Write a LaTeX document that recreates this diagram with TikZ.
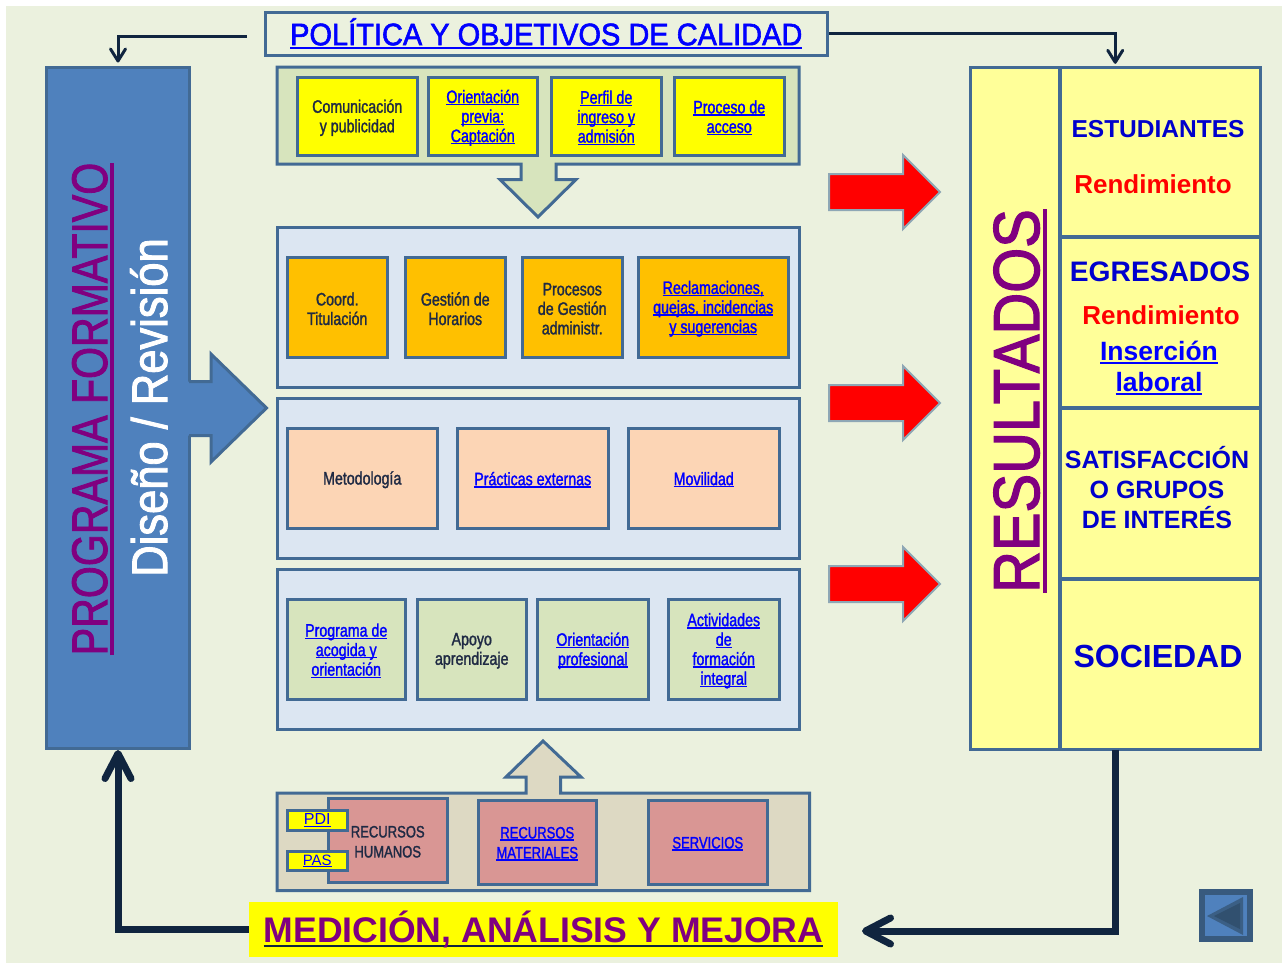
\documentclass[tikz,border=0pt]{standalone}
\usepackage{fontspec}
\usepackage{graphicx}
\setmainfont{Liberation Sans}
\newfontfamily\nar[FakeStretch=0.79,FakeBold=1.5]{Liberation Sans}
\newfontfamily\fb[FakeBold=2]{Liberation Sans}
\usetikzlibrary{arrows.meta}
\definecolor{bgc}{HTML}{EBF1DE}
\definecolor{edge}{HTML}{426A94}
\definecolor{navy}{HTML}{10253F}
\definecolor{blueb}{HTML}{4F81BD}
\definecolor{bluelink}{HTML}{0000FF}
\definecolor{deepb}{HTML}{0000CC}
\definecolor{purp}{HTML}{800080}
\definecolor{grn}{HTML}{D7E4BD}
\definecolor{tan}{HTML}{DDD9C3}
\definecolor{pale}{HTML}{DCE6F2}
\definecolor{peach}{HTML}{FCD5B5}
\definecolor{rose}{HTML}{D99694}
\definecolor{lemon}{HTML}{FFFF99}
\definecolor{orng}{HTML}{FFC000}
\definecolor{txt}{HTML}{1F2A44}
\definecolor{pureyel}{RGB}{255,255,0}
\definecolor{purered}{RGB}{255,0,0}
\newcommand\lnk[2][-0.13em]{\setbox0\hbox{#2}\leavevmode\rlap{\rule[#1]{\wd0}{0.07em}}\box0\relax}
\newcommand\bx[7]{%
  \pgfmathsetmacro\bxw{#4-#2-1.5}\pgfmathsetmacro\bxh{#5-#3-1.5}%
  \node[#6,minimum width=\bxw pt,minimum height=\bxh pt] (#1) at ({(#2+#4-1.5)/2},{(#3+#5-1.5)/2}) {#7};}
% box with its text set 1.5px lower than the centre
\newcommand\bt[7]{%
  \bx{#1}{#2}{#3}{#4}{#5}{#6}{}%
  \node[#6,draw=none,fill=none] (#1t) at ({(#2+#4-1.5)/2},{(#3+#5-1.5)/2+1.5}) {#7};}
\tikzset{
  x=1pt,y=-1pt,
  box/.style={draw=edge,line width=3pt,inner sep=0pt,align=center,text=txt,font=\nar\fontsize{18}{19.5}\selectfont},
  yel/.style={box,fill=pureyel},
  org/.style={box,fill=orng},
  pch/.style={box,fill=peach},
  grb/.style={box,fill=grn},
  ros/.style={box,fill=rose,font=\nar\fontsize{16.5}{20}\selectfont},
  lnkc/.style={text=bluelink},
  grp/.style={draw=edge,line width=3pt,line join=miter},
  res/.style={draw=edge,line width=3pt,fill=lemon,inner sep=0pt,align=center},
  thin/.style={draw=navy,line width=3pt,shorten >=3pt,-{Straight Barb[round,length=12pt,width=15pt]}},
  thick/.style={draw=navy,line width=7pt,line join=miter,-{Straight Barb[round,length=25pt,width=26pt]}},
  redarrow/.style={fill=purered,draw=edge!55!bgc,line width=2pt,line join=miter},
}
\begin{document}
\begin{tikzpicture}
\useasboundingbox (0,0) rectangle (1286,964);
\fill[white] (0,0) rectangle (1286,964);
\fill[bgc] (6,6) rectangle (1282,963);

% left column
\bx{prog}{46.5}{67}{191}{750}{draw=edge,line width=3pt,fill=blueb}{}
\fill[blueb] (186,381.5) -- (211,381.5) -- (211,354) -- (266.5,408) -- (211,462) -- (211,435.5) -- (186,435.5) -- cycle;
\draw[draw=edge,line width=3pt,line join=miter] (189,381.5) -- (211,381.5) -- (211,354) -- (266.5,408) -- (211,462) -- (211,435.5) -- (189,435.5);
\node[rotate=90,anchor=base,inner sep=0pt,text=purp,font=\fb\fontsize{50}{56}\selectfont] (progt) at (107,409) {\scalebox{0.822}[1]{\lnk{PROGRAMA FORMATIVO}}};
\node[rotate=90,anchor=base,inner sep=0pt,text=white,font=\fb\fontsize{50}{56}\selectfont] (dis) at (167,407.5) {\scalebox{0.87}[1]{Diseño / Revisión}};

% policy
\bx{pol}{265}{12}{829}{57}{draw=edge,line width=3pt,fill=bgc,inner sep=0pt,text=bluelink,font=\fb\fontsize{31}{35}\selectfont}{\scalebox{0.935}[1]{\lnk{POLÍTICA Y OBJETIVOS DE CALIDAD}}}

% group 1
\draw[grp,fill=grn] (277,67) -- (799,67) -- (799,164) -- (556,164) -- (556,179.5) -- (576,179.5) -- (538,217) -- (500,179.5) -- (521,179.5) -- (521,164) -- (277,164) -- cycle;
\bt{a1}{297}{77}{419}{157}{yel}{Comunicación\\y publicidad}
\bt{a2}{428}{77}{539}{157}{yel,lnkc}{\lnk{Orientación}\\\lnk{previa:}\\\lnk{Captación}}
\bt{a3}{551}{77}{663}{157}{yel,lnkc}{\lnk{Perfil de}\\\lnk{ingreso y}\\\lnk{admisión}}
\bt{a4}{674}{77}{786}{157}{yel,lnkc}{\lnk{Proceso de}\\\lnk{acceso}}

% group 2
\bx{g2}{277}{227}{800.5}{389}{grp,fill=pale}{}
\bt{b1}{287}{257}{389}{359}{org}{Coord.\\Titulación}
\bt{b2}{405}{257}{507}{359}{org}{Gestión de\\Horarios}
\bt{b3}{522}{257}{624}{359}{org}{Procesos\\de Gestión\\administr.}
\bt{b4}{638}{257}{790}{359}{org,lnkc}{\lnk{Reclamaciones,}\\\lnk{quejas, incidencias}\\\lnk{y sugerencias}}

% group 3
\bx{g3}{277}{398}{800.5}{560}{grp,fill=pale}{}
\bt{c1}{287}{428}{439}{530}{pch}{Metodología}
\bt{c2}{457}{428}{610}{530}{pch,lnkc}{\lnk{Prácticas externas}}
\bt{c3}{628}{428}{781}{530}{pch,lnkc}{\lnk{Movilidad}}

% group 4
\bx{g4}{277}{569}{800.5}{731}{grp,fill=pale}{}
\bt{d1}{287}{599}{407}{701}{grb,lnkc}{\lnk{Programa de}\\\lnk{acogida y}\\\lnk{orientación}}
\bt{d2}{417}{599}{528}{701}{grb}{Apoyo\\aprendizaje}
\bt{d3}{537}{599}{650}{701}{grb,lnkc}{\lnk{Orientación}\\\lnk{profesional}}
\bt{d4}{668}{599}{781}{701}{grb,lnkc}{\lnk{Actividades}\\\lnk{de}\\\lnk{formación}\\\lnk{integral}}

% group 5
\draw[grp,fill=tan] (277,793) -- (526,793) -- (526,777) -- (506,777) -- (543,741) -- (581,777) -- (560.5,777) -- (560.5,793) -- (809.5,793) -- (809.5,890.5) -- (277,890.5) -- cycle;
\bt{e1}{328}{798}{449}{884}{ros}{RECURSOS\\HUMANOS}
\bt{e2}{478}{800}{598}{886}{ros,lnkc}{\lnk{RECURSOS}\\\lnk{MATERIALES}}
\bt{e3}{648}{800}{769}{886}{ros,lnkc}{\lnk{SERVICIOS}}
\bx{pdi}{287}{810}{349}{832}{yel,text=bluelink,font=\fontsize{16}{18}\selectfont}{\lnk{PDI}}
\bx{pas}{287}{851}{349}{872}{yel,text=bluelink,font=\fontsize{15}{18}\selectfont}{\lnk{PAS}}

% measurement banner
\bx{med}{249}{902}{839.5}{958.5}{fill=pureyel,inner sep=0pt,text=purp,font=\bfseries\fontsize{35.6}{38}\selectfont}{\textcolor{navy}{\lnk{\textcolor{purp}{MEDICIÓN, ANÁLISIS Y MEJORA}}}}

% results
\bx{rall}{970}{67}{1262}{751}{inner sep=0pt}{}
\bx{rbig}{970}{67}{1060.5}{751}{res}{}
\bx{est}{1060}{67}{1262}{238}{res}{}
\bx{egr}{1060}{237}{1262}{409}{res}{}
\bx{sat}{1060}{408}{1262}{580}{res}{}
\bx{soc}{1060}{579}{1262}{751}{res}{}
\node[rotate=90,anchor=base,inner sep=0pt,text=purp,font=\fb\fontsize{65}{68}\selectfont] (rest) at (1039,401) {\scalebox{0.89}[1]{\lnk{RESULTADOS}}};
\node[inner sep=0pt,text=deepb,font=\bfseries\fontsize{24.5}{28}\selectfont] (t1) at (1158,129) {ESTUDIANTES};
\node[inner sep=0pt,text=purered,font=\bfseries\fontsize{26}{28}\selectfont] (t2) at (1153,184) {Rendimiento};
\node[inner sep=0pt,text=deepb,font=\bfseries\fontsize{28.2}{30}\selectfont] (t3) at (1160,272) {EGRESADOS};
\node[inner sep=0pt,text=purered,font=\bfseries\fontsize{26}{28}\selectfont] (t4) at (1161,315) {Rendimiento};
\node[inner sep=0pt,align=center,text=bluelink,font=\bfseries\fontsize{26.5}{31.5}\selectfont] (t5) at (1159,368) {\lnk{Inserción}\\\lnk{laboral}};
\node[inner sep=0pt,align=center,text=deepb,font=\bfseries\fontsize{25}{30}\selectfont] (t6) at (1157,488) {SATISFACCIÓN\\O GRUPOS\\DE INTERÉS};
\node[inner sep=0pt,text=deepb,font=\bfseries\fontsize{32}{36}\selectfont] (t7) at (1158,656) {SOCIEDAD};

% red arrows
\foreach \yy in {192,403,584}{
  \draw[redarrow] (829,\yy-18) -- (903,\yy-18) -- (903,\yy-37) -- (940,\yy) -- (903,\yy+37) -- (903,\yy+18) -- (829,\yy+18) -- cycle;
}

% connectors
\coordinate (polout) at (247,36);
\coordinate (resin) at (862,931);
\draw[thin] (polout) -| (prog.north);
\draw[thin] (pol.east) -| (rall.north);
\draw[thick] (rall.south) |- (resin);
\draw[thick] (med.west) -| (prog.south);

% back button
\bx{back}{1202}{892}{1251.5}{940.5}{fill=blueb,draw=edge!85!black,line width=6pt}{}
\fill[edge!90!black] (1207,916) -- (1243,897) -- (1243,935) -- cycle;
\fill[edge!75!black] (1214,916) -- (1240,903) -- (1240,929) -- cycle;
\end{tikzpicture}
\end{document}
